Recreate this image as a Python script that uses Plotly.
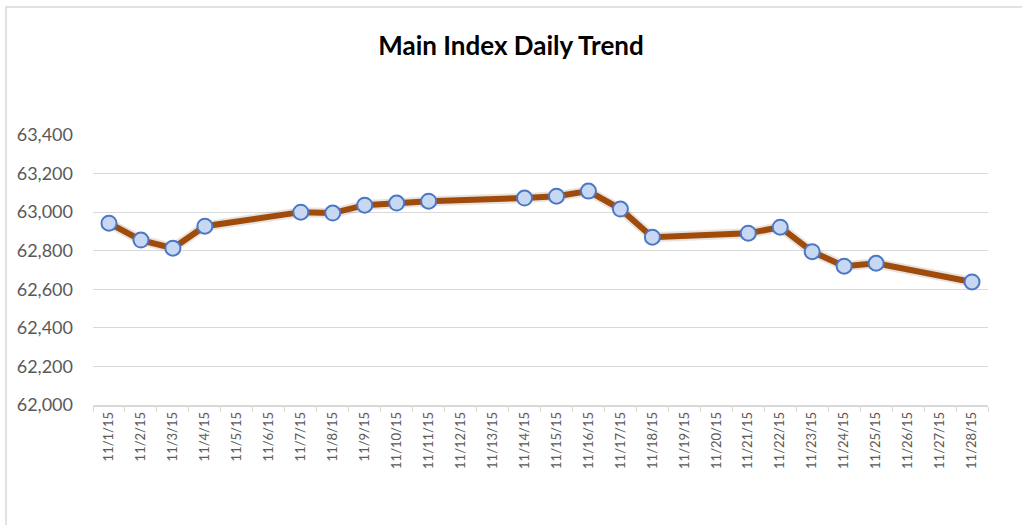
import plotly.graph_objects as go

dates = ["11/%d/15" % d for d in range(1, 29)]
values = [62943, 62855, 62813, 62927, None, None, 63000, 62995, 63036, 63047,
          63057, None, None, 63073, 63083, 63109, 63016, 62870, None, None,
          62891, 62922, 62795, 62720, 62735, None, None, 62638]
y_ticks = [62000, 62200, 62400, 62600, 62800, 63000, 63200, 63400]

W, H = 1022, 525
L, R, T, B = 93, 34, 135, 120
pw, ph = W - L - R, H - T - B
FONT = "Lato, Carlito, Calibri, sans-serif"

fig = go.Figure()
# soft shadow under the line
fig.add_trace(go.Scatter(x=dates, y=values, mode="lines", connectgaps=True,
                         line=dict(color="rgba(110,60,20,0.15)", width=10),
                         hoverinfo="skip", showlegend=False))
fig.add_trace(go.Scatter(
    x=dates, y=values, mode="lines+markers", connectgaps=True,
    line=dict(color="#9E4B0C", width=6),
    marker=dict(size=15, color="#C9D8F2", line=dict(color="#4A78C6", width=2)),
    showlegend=False))

fig.update_layout(
    width=W, height=H,
    margin=dict(l=L, r=R, t=T, b=B),
    paper_bgcolor="white", plot_bgcolor="white",
    font=dict(family=FONT, color="#595959"),
    title=dict(text="<b>Main Index Daily Trend</b>", x=0.5, xanchor="center",
               y=1 - 46 / H, yanchor="middle",
               font=dict(size=26, color="#000000", family=FONT)),
    xaxis=dict(type="category", categoryorder="array", categoryarray=dates,
               tickson="boundaries", ticks="outside", ticklen=5, tickcolor="#D9D9D9",
               showline=True, linecolor="#D9D9D9", linewidth=1.5,
               showgrid=False, tickangle=-90, tickfont=dict(size=13, color="#595959"),
               range=[-0.5, 27.5]),
    yaxis=dict(range=[62000, 63400], tickvals=y_ticks,
               ticktext=["{:,}".format(v) for v in y_ticks],
               showgrid=True, gridcolor="#D9D9D9", gridwidth=1,
               zeroline=False, showline=False, ticks="",
               ticklabelstandoff=19,
               tickfont=dict(size=18, color="#595959")),
    shapes=[dict(type="rect", xref="paper", yref="paper",
                 x0=(6 - L) / pw, x1=(1030 - L) / pw,
                 y0=(H - B - 535) / ph, y1=(H - B - 7) / ph,
                 line=dict(color="#D9D9D9", width=1.5), fillcolor="rgba(0,0,0,0)",
                 layer="below")],
)

fig.write_html("out.html", config={"displayModeBar": False},
               post_script="document.body.style.margin='0';")
